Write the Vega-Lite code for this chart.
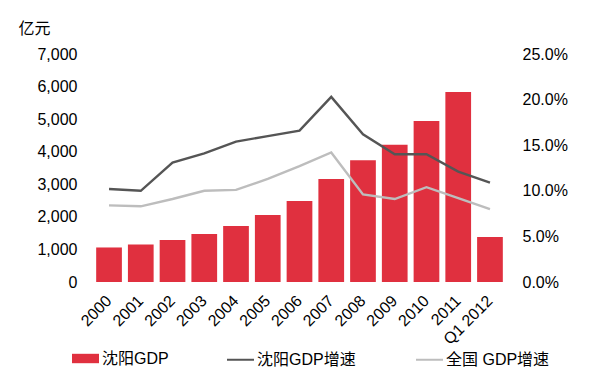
{
  "$schema": "https://vega.github.io/schema/vega-lite/v6.json",
  "autosize": "none",
  "width": 413,
  "height": 228,
  "padding": {"left": 93, "top": 54, "right": 91, "bottom": 98},
  "background": "white",
  "config": {
    "view": {"stroke": null},
    "font": "Liberation Sans, Noto Sans CJK SC",
    "axis": {"domain": false, "grid": false, "ticks": false, "tickSize": 0, "labelFont": "Liberation Sans, Noto Sans CJK SC", "labelFontSize": 16, "labelColor": "#000000"},
    "legend": {"labelFont": "Liberation Sans, Noto Sans CJK SC", "labelFontSize": 16, "labelColor": "#000000", "padding": 0}
  },
  "data": {
    "values": [
      {"year": "2000", "gdp": 1060, "sy": 0.102, "cn": 0.084},
      {"year": "2001", "gdp": 1150, "sy": 0.100, "cn": 0.083},
      {"year": "2002", "gdp": 1290, "sy": 0.131, "cn": 0.091},
      {"year": "2003", "gdp": 1470, "sy": 0.141, "cn": 0.100},
      {"year": "2004", "gdp": 1720, "sy": 0.154, "cn": 0.101},
      {"year": "2005", "gdp": 2060, "sy": 0.160, "cn": 0.113},
      {"year": "2006", "gdp": 2490, "sy": 0.166, "cn": 0.127},
      {"year": "2007", "gdp": 3160, "sy": 0.203, "cn": 0.142},
      {"year": "2008", "gdp": 3740, "sy": 0.162, "cn": 0.096},
      {"year": "2009", "gdp": 4210, "sy": 0.140, "cn": 0.091},
      {"year": "2010", "gdp": 4940, "sy": 0.140, "cn": 0.104},
      {"year": "2011", "gdp": 5830, "sy": 0.121, "cn": 0.092},
      {"year": "Q1 2012", "gdp": 1380, "sy": 0.109, "cn": 0.080}
    ]
  },
  "encoding": {
    "x": {
      "field": "year", "type": "nominal", "sort": null,
      "scale": {"paddingInner": 0.19, "paddingOuter": 0.1},
      "axis": {"title": null, "labelAngle": -45, "labelAlign": "right", "labelBaseline": "middle", "labelPadding": 16}
    }
  },
  "layer": [
    {
      "mark": {"type": "bar"},
      "encoding": {
        "y": {"field": "gdp", "type": "quantitative", "scale": {"domain": [0, 7000]},
          "axis": {"orient": "left", "values": [0,1000,2000,3000,4000,5000,6000,7000], "format": ",d", "labelPadding": 16,
            "title": "亿元", "titleAngle": 0, "titleAlign": "left", "titleBaseline": "middle", "titleX": -75, "titleY": -26,
            "titleFontSize": 16, "titleFontWeight": "normal", "titleColor": "#000000", "titleFont": "Liberation Sans, Noto Sans CJK SC"}},
        "fill": {"datum": "沈阳GDP", "scale": {"domain": ["沈阳GDP"], "range": ["#E0303F"]},
          "legend": {"title": null, "orient": "none", "legendX": -21, "legendY": 291,
            "symbolType": "M-1,-0.348H1V0.348H-1Z", "symbolSize": 729, "symbolStrokeWidth": 0, "labelOffset": 3}}
      }
    },
    {
      "mark": {"type": "line", "strokeWidth": 2.4},
      "encoding": {
        "y": {"field": "sy", "type": "quantitative", "scale": {"domain": [0, 0.25]},
          "axis": {"orient": "right", "values": [0, 0.05, 0.1, 0.15, 0.2, 0.25], "format": ".1%", "labelPadding": 16, "title": null}},
        "stroke": {"datum": "沈阳GDP增速", "scale": {"domain": ["沈阳GDP增速", "全国 GDP增速"], "range": ["#555555", "#BDBDBD"]},
          "legend": {"title": null, "orient": "none", "direction": "horizontal", "legendX": 133, "legendY": 291,
            "symbolType": "stroke", "symbolSize": 729, "symbolStrokeWidth": 2, "labelOffset": 2, "columnPadding": 56}}
      }
    },
    {
      "mark": {"type": "line", "strokeWidth": 2.4},
      "encoding": {
        "y": {"field": "cn", "type": "quantitative", "scale": {"domain": [0, 0.25]}, "axis": null},
        "stroke": {"datum": "全国 GDP增速"}
      }
    }
  ],
  "resolve": {"scale": {"y": "independent"}}
}
